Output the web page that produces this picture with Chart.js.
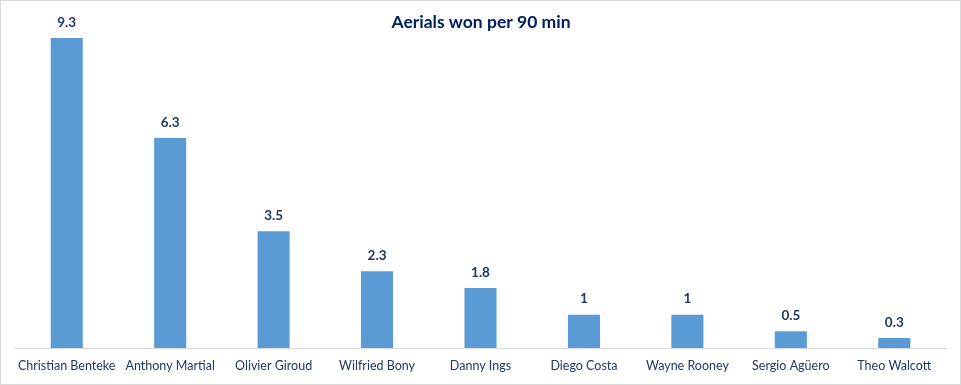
<!DOCTYPE html>
<html>
<head>
<meta charset="utf-8">
<script src="https://cdn.jsdelivr.net/npm/chart.js@4.4.1/dist/chart.umd.min.js"></script>
<style>
    body { margin: 0; background: #fff; }
    #wrap { width: 961px; height: 385px; position: relative; }
</style>
</head>
<body>
<div id="wrap"><canvas id="aerialChart" width="961" height="385"></canvas></div>
<script>
const players = ["Christian Benteke", "Anthony Martial", "Olivier Giroud", "Wilfried Bony", "Danny Ings",
    "Diego Costa", "Wayne Rooney", "Sergio Agüero", "Theo Walcott"];
const aerialsWon = [9.3, 6.3, 3.5, 2.3, 1.8, 1, 1, 0.5, 0.3];
const chartTitle = "Aerials won per 90 min";

// title, value labels and outer frame
const decorPlugin = {
    id: 'decor',
    afterDatasetsDraw(chart) {
        const ctx = chart.ctx;
        const meta = chart.getDatasetMeta(0);
        ctx.save();
        ctx.fillStyle = '#1F3864';
        ctx.font = 'bold 13.5px Lato';
        ctx.textAlign = 'center';
        ctx.textBaseline = 'bottom';
        meta.data.forEach((bar, i) => {
            ctx.fillText(aerialsWon[i], bar.x, bar.y - 9);
        });
        ctx.font = 'bold 17.5px Lato';
        ctx.fillStyle = '#002060';
        ctx.textBaseline = 'middle';
        ctx.fillText(chartTitle, 481, 22);
        ctx.strokeStyle = '#d9d9d9';
        ctx.lineWidth = 1;
        ctx.strokeRect(0.5, 0.5, chart.width - 1, chart.height - 1);
        ctx.restore();
    }
};

new Chart(document.getElementById('aerialChart').getContext('2d'), {
    type: 'bar',
    data: {
        labels: players,
        datasets: [{
            label: chartTitle,
            data: aerialsWon,
            backgroundColor: '#5B9BD5',
            barPercentage: 0.31,
            categoryPercentage: 1
        }]
    },
    options: {
        responsive: false,
        animation: false,
        layout: { padding: { left: 15, right: 15, top: 14.6, bottom: 2 } },
        plugins: {
            legend: { display: false },
            tooltip: { enabled: false }
        },
        scales: {
            x: {
                grid: { display: false, drawTicks: false },
                border: { color: '#d9d9d9' },
                ticks: {
                    color: '#1F3864',
                    padding: 10,
                    maxRotation: 0,
                    autoSkip: false,
                    font: { family: 'Lato', size: 12.5 }
                }
            },
            y: {
                display: false,
                min: 0,
                max: 10
            }
        }
    },
    plugins: [decorPlugin]
});
</script>
</body>
</html>
